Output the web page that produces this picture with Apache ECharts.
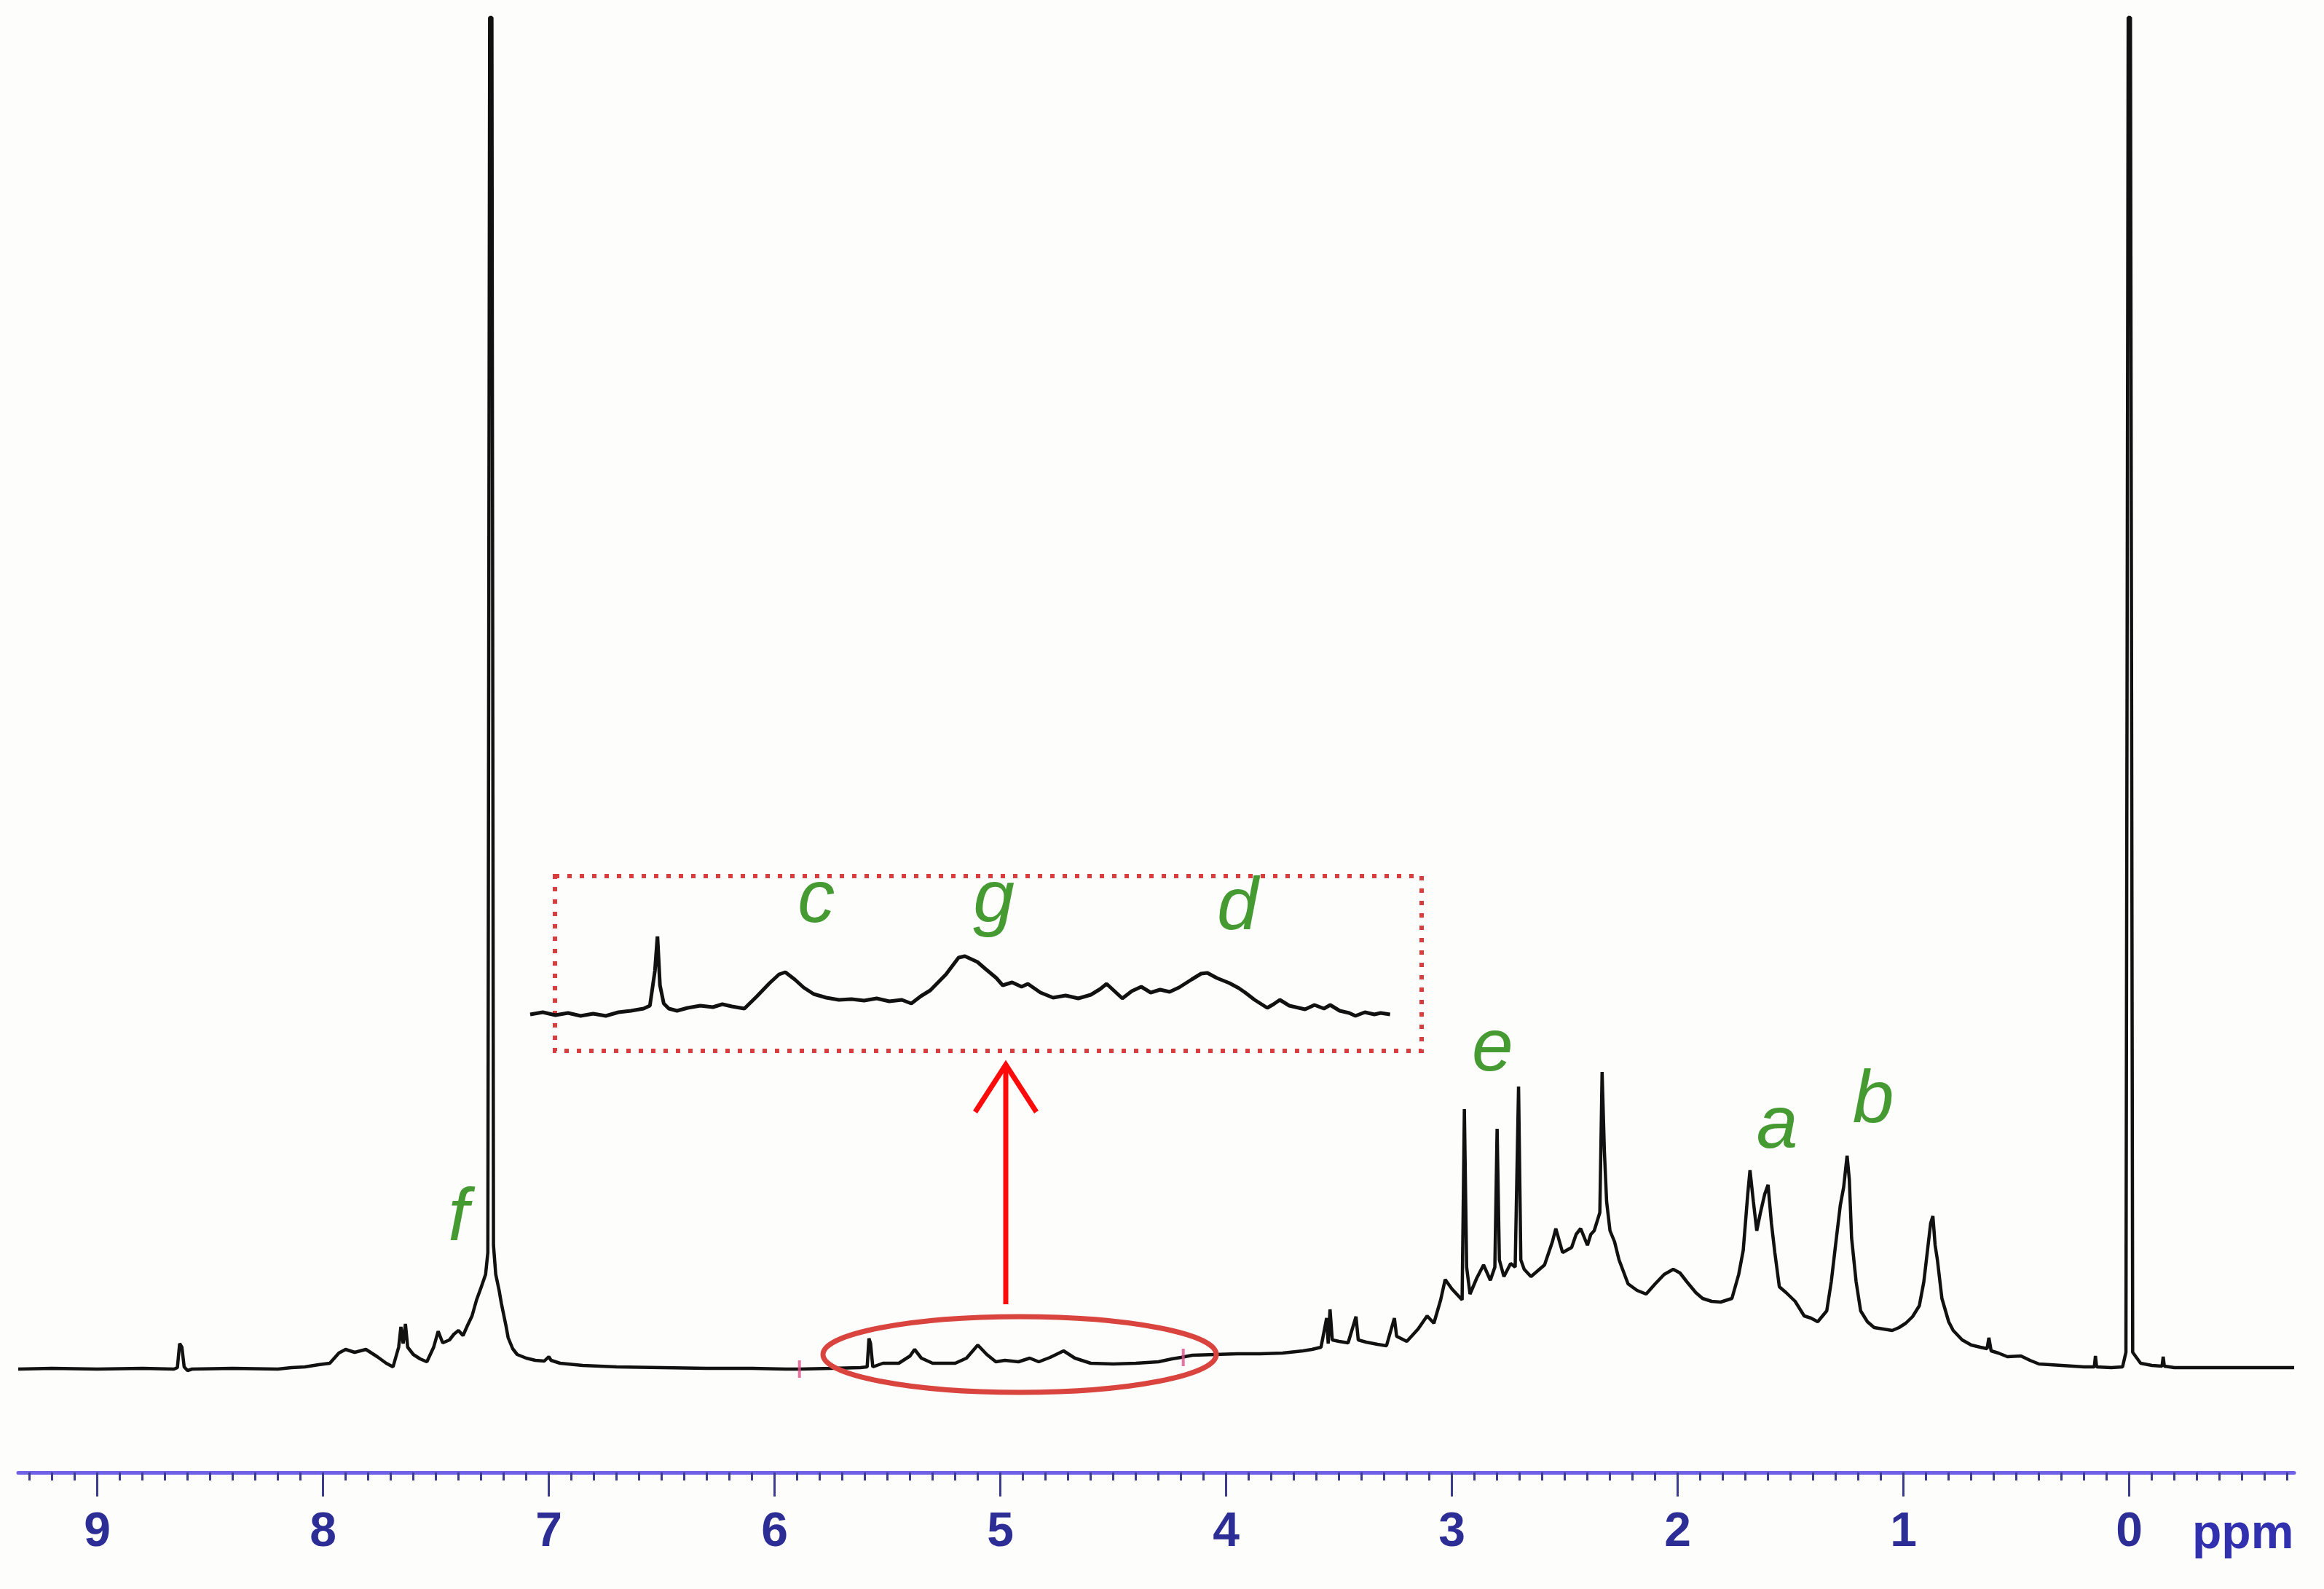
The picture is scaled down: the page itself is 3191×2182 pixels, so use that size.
<!DOCTYPE html>
<html>
<head>
<meta charset="utf-8">
<script src="https://cdn.jsdelivr.net/npm/echarts/dist/echarts.min.js"></script>
<style>
  html, body { margin: 0; padding: 0; background: #fdfdfb; }
  #chart { width: 3191px; height: 2182px; }
</style>
</head>
<body>
<div id="chart"></div>
<script>
// chemical shift (ppm) and intensity (arbitrary, baseline = 0) of the full spectrum
const mainPpm = [
  9.35, 9.2, 9.0, 8.8, 8.66, 8.645, 8.635, 8.625, 8.615, 8.60, 8.58, 8.4, 8.2, 8.14, 8.08, 8.02,
  7.97, 7.93, 7.90, 7.86, 7.81, 7.76, 7.72, 7.69, 7.665, 7.655, 7.645, 7.635, 7.625, 7.60, 7.57,
  7.54, 7.51, 7.49, 7.47, 7.44, 7.42, 7.40, 7.38, 7.36, 7.34, 7.32, 7.30, 7.28, 7.27, 7.262,
  7.252, 7.245, 7.235, 7.22, 7.21, 7.19, 7.18, 7.16, 7.14, 7.10, 7.06, 7.02, 7.00, 6.99, 6.95,
  6.85, 6.7, 6.5, 6.3, 6.1, 5.95, 5.89, 5.75, 5.62, 5.59, 5.582, 5.575, 5.565, 5.52, 5.45, 5.40,
  5.38, 5.35, 5.30, 5.20, 5.15, 5.10, 5.06, 5.02, 4.98, 4.92, 4.87, 4.83, 4.78, 4.72, 4.67, 4.60,
  4.50, 4.40, 4.30, 4.24, 4.20, 4.15, 4.05, 3.95, 3.85, 3.75, 3.66, 3.62, 3.58, 3.555, 3.548,
  3.54, 3.53, 3.50, 3.46, 3.425, 3.415, 3.38, 3.33, 3.29, 3.255, 3.245, 3.20, 3.15, 3.11, 3.08,
  3.05, 3.03, 3.00, 2.97, 2.955, 2.945, 2.935, 2.92, 2.89, 2.86, 2.83, 2.81, 2.80, 2.79, 2.77,
  2.74, 2.72, 2.705, 2.695, 2.68, 2.65, 2.62, 2.59, 2.555, 2.54, 2.51, 2.47, 2.45, 2.43, 2.40,
  2.385, 2.37, 2.345, 2.335, 2.325, 2.315, 2.30, 2.28, 2.26, 2.22, 2.18, 2.14, 2.10, 2.06, 2.02,
  1.99, 1.96, 1.92, 1.89, 1.85, 1.81, 1.76, 1.73, 1.71, 1.69, 1.68, 1.665, 1.65, 1.635, 1.615,
  1.60, 1.585, 1.57, 1.55, 1.52, 1.48, 1.44, 1.41, 1.38, 1.34, 1.32, 1.30, 1.28, 1.265, 1.25,
  1.24, 1.23, 1.21, 1.19, 1.16, 1.13, 1.09, 1.05, 1.02, 0.99, 0.96, 0.93, 0.91, 0.895, 0.88,
  0.87, 0.86, 0.85, 0.83, 0.80, 0.78, 0.74, 0.70, 0.66, 0.63, 0.622, 0.612, 0.58, 0.54, 0.48,
  0.44, 0.40, 0.30, 0.20, 0.155, 0.15, 0.145, 0.08, 0.03, 0.015, 0.005, -0.005, -0.015, -0.05,
  -0.10, -0.145, -0.15, -0.155, -0.2, -0.4, -0.6, -0.73
];
const mainIntensity = [
  0, 1, 0, 1, 0, 2, 35, 30, 3, -2, 0, 1, 0, 2, 3, 6,
  8, 22, 27, 23, 27, 17, 8, 3, 30, 58, 35, 62, 30, 20, 14,
  10, 30, 52, 36, 40, 48, 53, 46, 60, 73, 95, 112, 130, 160, 1856,
  1856, 170, 130, 108, 90, 60, 43, 28, 20, 15, 12, 11, 17, 12, 8,
  5, 3, 2, 1, 1, 0, 0, 1, 2, 3, 42, 35, 3, 8, 8, 18,
  27, 15, 8, 8, 15, 33, 20, 10, 12, 10, 15, 10, 16, 25, 15, 8,
  7, 8, 10, 14, 16, 19, 20, 21, 21, 22, 25, 27, 30, 70, 35,
  82, 40, 38, 36, 72, 40, 37, 34, 32, 70, 45, 38, 55, 73, 63,
  95, 123, 110, 100, 95, 357, 140, 103, 125, 143, 122, 140, 330, 150, 127,
  145, 140, 388, 150, 137, 127, 135, 143, 175, 193, 160, 167, 185, 193, 170,
  185, 190, 215, 408, 300, 230, 190, 175, 150, 117, 108, 103, 117, 130, 137,
  132, 120, 105, 97, 93, 92, 97, 130, 163, 240, 273, 230, 190, 213, 240,
  253, 200, 160, 113, 105, 93, 73, 70, 65, 80, 120, 173, 225, 250, 293,
  260, 180, 120, 80, 65, 57, 55, 53, 57, 63, 72, 87, 120, 160, 200,
  210, 170, 150, 97, 65, 53, 40, 33, 30, 28, 43, 25, 22, 17, 18,
  12, 7, 5, 3, 3, 18, 3, 2, 3, 23, 1856, 1856, 23, 8,
  5, 4, 17, 4, 2, 2, 2, 2
];

// magnified region shown in the dashed box (5.78 - 4.41 ppm)
const insetPpm = [
  5.78, 5.76, 5.74, 5.72, 5.70, 5.68, 5.66, 5.64, 5.62, 5.60, 5.59, 5.582, 5.578, 5.574, 5.568,
  5.56, 5.547, 5.53, 5.51, 5.49, 5.475, 5.46, 5.44, 5.42, 5.40, 5.385, 5.375, 5.36, 5.346, 5.33,
  5.31, 5.29, 5.27, 5.25, 5.23, 5.21, 5.19, 5.175, 5.16, 5.145, 5.12, 5.10, 5.09, 5.07, 5.058,
  5.04, 5.03, 5.015, 5.00, 4.99, 4.97, 4.95, 4.93, 4.91, 4.89, 4.875, 4.865, 4.85, 4.84, 4.825,
  4.81, 4.795, 4.78, 4.765, 4.75, 4.73, 4.715, 4.705, 4.69, 4.67, 4.655, 4.645, 4.63, 4.61, 4.60,
  4.59, 4.575, 4.56, 4.55, 4.535, 4.52, 4.51, 4.495, 4.48, 4.47, 4.455, 4.44, 4.43, 4.415
];
const insetIntensity = [
  0, 3, -1, 2, -2, 1, -2, 3, 5, 8, 12, 60, 107, 40, 15,
  8, 5, 9, 12, 10, 14, 11, 8, 25, 43, 55, 58, 48, 37, 28,
  23, 20, 21, 19, 22, 18, 20, 15, 25, 33, 55, 78, 80, 72, 63,
  50, 40, 44, 38, 42, 30, 23, 26, 22, 27, 35, 42, 30, 22, 32,
  38, 30, 34, 31, 37, 48, 56, 57, 50, 43, 36, 30, 20, 9, 14,
  20, 12, 9, 7, 13, 8, 13, 5, 2, -2, 3, 0, 2, 0
];

// small pink integration marks on the baseline
const markPpm = [5.89, 4.19];
const markIntensity = [0, 16];

// peak letters on the full spectrum
const mainLetters = ['f', 'e', 'a', 'b'];
const mainLetterPpm = [7.40, 2.82, 1.56, 1.134];
const mainLetterY = [205, 438, 332, 367];

// peak letters inside the magnified box
const insetLetters = ['c', 'g', 'd'];
const insetLetterPpm = [5.326, 5.044, 4.657];
const insetLetterY = [155, 155, 145];

const majorTicks = [0, 1, 2, 3, 4, 5, 6, 7, 8, 9];
const minorTicks = [];
for (let i = -7; i <= 93; i++) {
  if (i % 10 !== 0) minorTicks.push(i / 10);
}

const zip = (xs, ys) => xs.map((x, i) => [x, ys[i]]);

const FONT = 'Liberation Sans, Arial, sans-serif';
const GREEN = '#168200';

const chart = echarts.init(document.getElementById('chart'), null, { renderer: 'canvas' });

const option = {
  backgroundColor: '#fdfdfb',
  animation: false,
  grid: [
    { left: 25, right: 41, top: 20, bottom: 160 },
    { left: 728, right: 1278, top: 1203, bottom: 739 }
  ],
  xAxis: [
    {
      gridIndex: 0, type: 'value', inverse: true, min: -0.73, max: 9.35, position: 'bottom',
      axisLine: { onZero: false, lineStyle: { color: '#6f62e6', width: 5 } },
      axisTick: { customValues: majorTicks, length: 33, lineStyle: { color: '#3c3c8e', width: 3 } },
      axisLabel: {
        customValues: majorTicks, margin: 50, fontSize: 66, fontWeight: 'bold',
        fontFamily: FONT, color: '#2d2d96'
      },
      splitLine: { show: false }
    },
    {
      gridIndex: 0, type: 'value', inverse: true, min: -0.73, max: 9.35, position: 'bottom',
      axisLine: { show: false, onZero: false },
      axisTick: { customValues: minorTicks, length: 11, lineStyle: { color: '#3c3c8e', width: 3 } },
      axisLabel: { show: false },
      splitLine: { show: false }
    },
    { gridIndex: 1, type: 'value', inverse: true, min: 4.41, max: 5.78, show: false }
  ],
  yAxis: [
    { gridIndex: 0, type: 'value', min: -142, max: 1860, show: false },
    { gridIndex: 1, type: 'value', min: -50, max: 190, show: false }
  ],
  series: [
    {
      type: 'line', xAxisIndex: 0, yAxisIndex: 0,
      data: zip(mainPpm, mainIntensity),
      showSymbol: false, lineStyle: { color: '#111111', width: 4.5 }, z: 3
    },
    {
      type: 'line', xAxisIndex: 2, yAxisIndex: 1,
      data: zip(insetPpm, insetIntensity),
      showSymbol: false, lineStyle: { color: '#111111', width: 5 }, z: 3
    },
    {
      type: 'scatter', xAxisIndex: 0, yAxisIndex: 0,
      data: zip(markPpm, markIntensity),
      symbol: 'rect', symbolSize: [4, 24], itemStyle: { color: '#e0508c' }, z: 4
    },
    {
      type: 'scatter', xAxisIndex: 0, yAxisIndex: 0, symbolSize: 0,
      data: mainLetters.map((n, i) => ({ name: n, value: [mainLetterPpm[i], mainLetterY[i]] })),
      label: {
        show: true, position: 'inside', formatter: '{b}', fontSize: 102, fontStyle: 'italic',
        fontFamily: FONT, color: GREEN
      }
    },
    {
      type: 'scatter', xAxisIndex: 2, yAxisIndex: 1, symbolSize: 0,
      data: insetLetters.map((n, i) => ({ name: n, value: [insetLetterPpm[i], insetLetterY[i]] })),
      label: {
        show: true, position: 'inside', formatter: '{b}', fontSize: 102, fontStyle: 'italic',
        fontFamily: FONT, color: GREEN
      }
    }
  ],
  graphic: [
    {
      type: 'text', x: 3010, y: 2108, z: 10,
      style: { text: 'ppm', font: 'bold 66px ' + FONT, fill: '#3131b0', verticalAlign: 'middle' }
    },
    {
      type: 'rect', z: 1,
      shape: { x: 762, y: 1203, width: 1190, height: 240 },
      style: { fill: 'none', stroke: '#d93d3d', lineWidth: 6, lineDash: [6, 11] }
    },
    {
      type: 'ellipse', z: 5,
      shape: { cx: 1400, cy: 1860, rx: 270, ry: 52 },
      style: { fill: 'none', stroke: '#d9443f', lineWidth: 7 }
    },
    {
      type: 'polyline', z: 5,
      shape: { points: [[1381, 1791], [1381, 1462]] },
      style: { stroke: '#ff0a0a', lineWidth: 7, fill: 'none' }
    },
    {
      type: 'polyline', z: 5,
      shape: { points: [[1339, 1527], [1381, 1462], [1423, 1527]] },
      style: { stroke: '#ff0a0a', lineWidth: 7, fill: 'none', lineJoin: 'miter' }
    }
  ]
};

chart.setOption(option);
window.addEventListener('resize', () => chart.resize());
</script>
</body>
</html>
